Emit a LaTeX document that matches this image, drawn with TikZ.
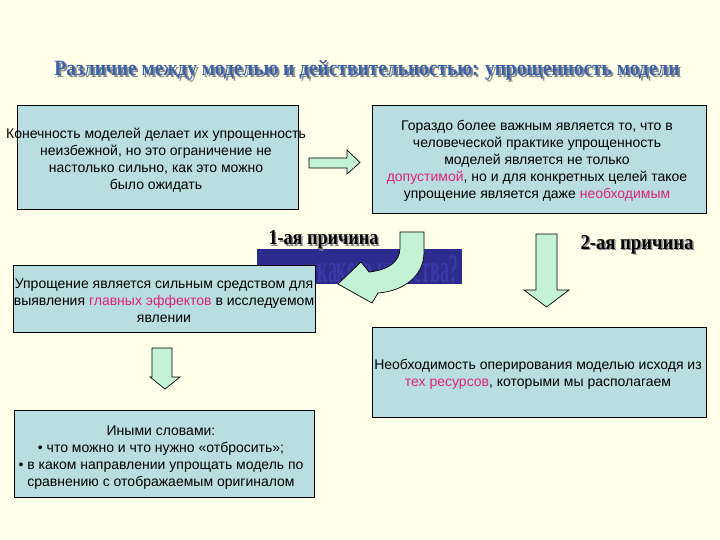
\documentclass[tikz,border=0pt]{standalone}
\usepackage{fontspec}
\setmainfont{Liberation Sans}
\newfontfamily\serifb{Liberation Serif}
\usepackage{graphicx}
\definecolor{bg}{HTML}{FFFFEA}
\definecolor{boxfill}{HTML}{B9DEE2}
\definecolor{hl}{HTML}{E0207A}
\definecolor{arrowfill}{HTML}{C4F2D4}
\definecolor{titleblue}{HTML}{3A62A8}
\definecolor{banner}{HTML}{2C2C8E}
\definecolor{bannertext}{HTML}{3A3AA8}
\begin{document}
\begin{tikzpicture}[x=1pt,y=-1pt,
  box/.style={draw=black, line width=0.8pt, fill=boxfill},
  txt/.style={align=center, font=\fontsize{14}{17}\selectfont, inner sep=0pt},
  blockarrow/.style={draw=black, line width=0.7pt, fill=arrowfill, line join=miter},
  shadowtxt/.style={inner sep=0pt, text=black!45, anchor=base},
  headtxt/.style={inner sep=0pt, anchor=base}]
\fill[bg] (0,0) rectangle (720,540);
\useasboundingbox (0,0) rectangle (720,540);

% title
\node[shadowtxt] at (369,77.5) {\serifb\bfseries\resizebox{625pt}{15pt}{Различие между моделью и действительностью: упрощенность модели}};
\node[headtxt, text=titleblue] (title) at (367,76) {\serifb\bfseries\resizebox{625pt}{15pt}{Различие между моделью и действительностью: упрощенность модели}};

% box 1
\draw[box] (17,105) rectangle (298,209);
\node[txt] (t1) at (156,160) {Конечность моделей делает их упрощенность\\неизбежной, но это ограничение не\\настолько сильно, как это можно\\было ожидать};

% arrow right
\draw[blockarrow] (309,158) -- (347,158) -- (347,150) -- (360,162.5) -- (347,174) -- (347,168) -- (309,168) -- cycle;

% box 2
\draw[box] (372,105) rectangle (706,213);
\node[txt] (t2) at (537,161) {Гораздо более важным является то, что в\\человеческой практике упрощенность\\моделей является не только\\\textcolor{hl}{допустимой}, но и для конкретных целей такое\\упрощение является даже \textcolor{hl}{необходимым}};

% banner
\fill[banner] (257,249) rectangle (462,284);
\node[inner sep=0pt, anchor=base, text=bannertext] (bn) at (388,282) {\serifb\bfseries\resizebox{140pt}{27pt}{какого качества?}};

% 1-ая причина
\node[shadowtxt] at (325,246.5) {\serifb\bfseries\resizebox{110pt}{14pt}{1-ая причина}};
\node[headtxt] (r1) at (323.5,245) {\serifb\bfseries\resizebox{110pt}{14pt}{1-ая причина}};

% box 3
\draw[box] (13,265) rectangle (315,332);
\node[txt] (t3) at (164,301) {Упрощение является сильным средством для\\выявления \textcolor{hl}{главных эффектов} в исследуемом\\явлении};

% curved arrow
\draw[blockarrow] (400,232) -- (424,232) -- (424,252)
  .. controls (424,276) and (404,291) .. (378,293)
  -- (372,303) -- (338,284) -- (361,262) -- (369,272)
  .. controls (388,270) and (400,262) .. (400,248) -- cycle;

% 2-ая причина
\node[shadowtxt] at (638.5,250.5) {\serifb\bfseries\resizebox{113pt}{14pt}{2-ая причина}};
\node[headtxt] (r2) at (637,249) {\serifb\bfseries\resizebox{113pt}{14pt}{2-ая причина}};

% arrow down right
\draw[blockarrow] (536,234) -- (557,234) -- (557,290) -- (569,290) -- (546.5,307) -- (524,290) -- (536,290) -- cycle;

% box 4
\draw[box] (372,327) rectangle (706,417);
\node[txt] (t4) at (538,374) {Необходимость оперирования моделью исходя из\\\textcolor{hl}{тех ресурсов}, которыми мы располагаем};

% arrow down left
\draw[blockarrow] (152,348) -- (172,348) -- (172,377) -- (180,377) -- (165,389) -- (150,377) -- (152,377) -- cycle;

% box 5
\draw[box] (14,410) rectangle (314,497);
\node[txt] (t5) at (161,458) {Иными словами:\\\textbullet{} что можно и что нужно «отбросить»;\\\textbullet{} в каком направлении упрощать модель по\\сравнению с отображаемым оригиналом};
\end{tikzpicture}
\end{document}
